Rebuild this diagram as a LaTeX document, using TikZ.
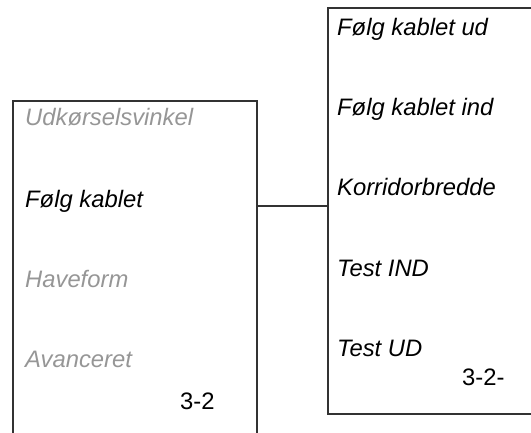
\documentclass[tikz,border=0pt]{standalone}
\usepackage{fontspec}
\setmainfont{Liberation Sans}
\definecolor{dimtext}{RGB}{150,150,150}
\definecolor{boxline}{RGB}{50,50,50}
\begin{document}
\begin{tikzpicture}[x=1pt,y=-1pt,
  panel/.style={draw=boxline,line width=1.6pt,anchor=north west,inner sep=0pt},
  item/.style={anchor=base west,inner sep=0pt,font=\fontsize{23.8}{28}\selectfont\itshape},
  dimitem/.style={item,text=dimtext},
  pagenum/.style={anchor=base west,inner sep=0pt,font=\fontsize{23.8}{28}\selectfont},
  link/.style={draw=boxline,line width=1.2pt}]
\clip (0,0) rectangle (531,432);
\path[use as bounding box] (0,0) rectangle (531,432);
\node[panel,minimum width=244pt,minimum height=350pt] (L) at (12,100) {};
\node[panel,minimum width=220pt,minimum height=406pt] (R) at (327,7) {};
\node[dimitem] (l1) at (25,125) {Udkørselsvinkel};
\node[item] (l2) at (25,207) {Følg kablet};
\node[dimitem] (l3) at (25,287) {Haveform};
\node[dimitem] (l4) at (25,367) {Avanceret};
\node[pagenum] (lp) at (180,409) {3-2};
\node[item] (r1) at (337,35) {Følg kablet ud};
\node[item] (r2) at (337,115) {Følg kablet ind};
\node[item] (r3) at (337,195) {Korridorbredde};
\node[item] (r4) at (337,276) {Test IND};
\node[item] (r5) at (337,356) {Test UD};
\node[pagenum] (rp) at (462,385) {3-2-};
\coordinate (lk) at (0,206);
\draw[link] (L.east |- lk) -- (R.west |- lk);
\end{tikzpicture}
\end{document}
